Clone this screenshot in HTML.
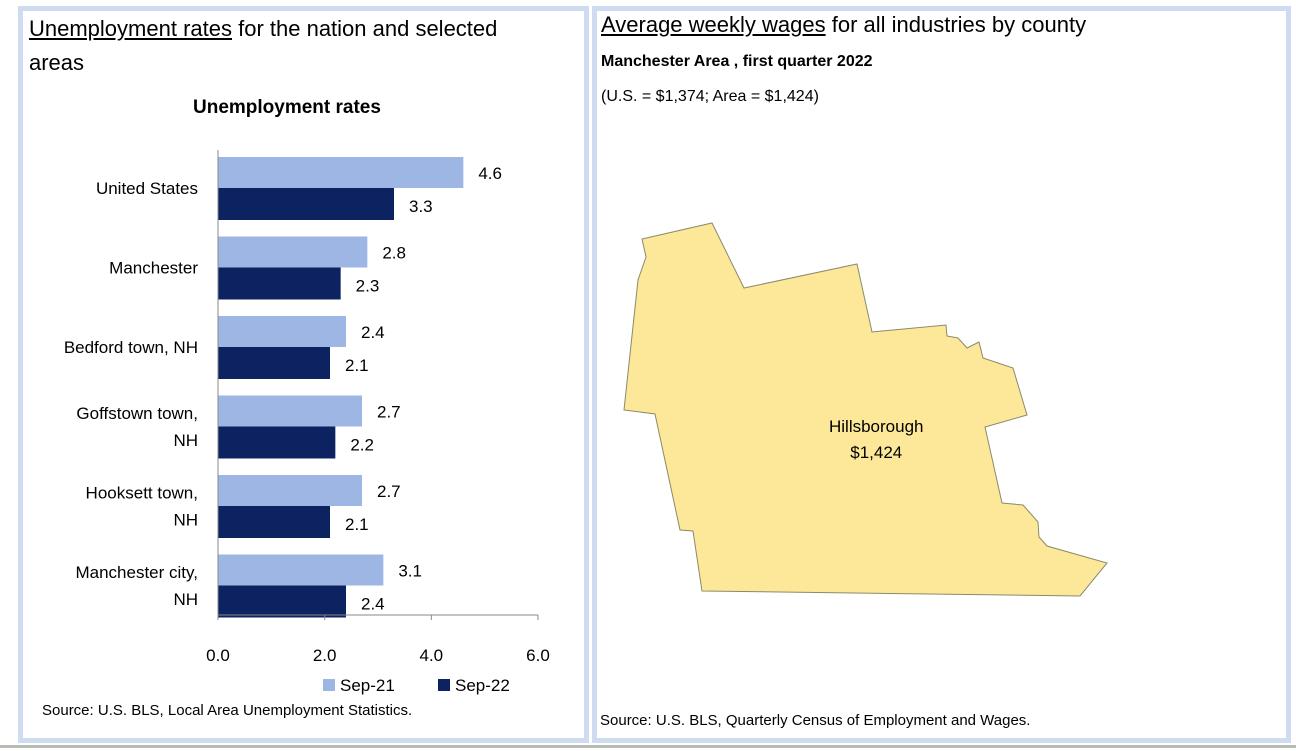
<!DOCTYPE html>
<html><head><meta charset="utf-8"><style>
body{margin:0;width:1296px;height:751px;background:#fff;position:relative;overflow:hidden;font-family:"Liberation Sans",Carlito,sans-serif;color:#000}
.panel{position:absolute;border:5px solid #cfdbf0;box-sizing:border-box;background:#fff}
.t{position:absolute;white-space:nowrap}
</style></head><body>
<div class="panel" style="left:18px;top:6px;width:571px;height:737px"></div>
<div class="panel" style="left:592px;top:6px;width:699px;height:737px"></div>
<div style="position:absolute;left:0;top:745px;width:1296px;height:3px;background:#b7bdb2"></div>

<div class="t" style="left:29px;top:12px;font-size:22px;line-height:34px"><u>Unemployment rates</u> for the nation and selected<br>areas</div>
<div class="t" style="left:193px;top:97px;font-size:19px;font-weight:bold">Unemployment rates</div>

<svg id="chart" style="position:absolute;left:0;top:0" width="590" height="700"></svg>

<div class="t" style="left:323px;top:676px;font-size:17px"><span style="display:inline-block;width:12px;height:12px;background:#9db6e4;margin-right:5px"></span>Sep-21</div>
<div class="t" style="left:438px;top:676px;font-size:17px"><span style="display:inline-block;width:12px;height:12px;background:#0d2260;margin-right:5px"></span>Sep-22</div>
<div class="t" style="left:42px;top:702px;font-size:15px">Source: U.S. BLS, Local Area Unemployment Statistics.</div>

<div class="t" style="left:601px;top:10px;font-size:22px;line-height:30px"><u>Average weekly wages</u> for all industries by county</div>
<div class="t" style="left:601px;top:53px;font-size:16px;font-weight:bold">Manchester Area , first quarter 2022</div>
<div class="t" style="left:601px;top:88px;font-size:16px">(U.S. = $1,374; Area = $1,424)</div>
<svg style="position:absolute;left:0;top:0" width="1296" height="751">
<polygon fill="#fde899" stroke="#8a8a6a" stroke-width="1" points="642,239 712,223 744,288 857,264 872,332 946,325 947,336 958,338 967,348 979,342 983,358 1013,368 1027,415 985,427 1002,503 1023,505 1038,522 1039,537 1047,546 1107,563 1080,596 702,591 693,531 680,530 655,414 624,410 638,280 646,257"/>
</svg>
<div class="t" style="left:829px;top:414px;font-size:17px;text-align:center;line-height:26px">Hillsborough<br>$1,424</div>
<div class="t" style="left:600px;top:712px;font-size:15px">Source: U.S. BLS, Quarterly Census of Employment and Wages.</div>

<script>
const categories=[["United States"],["Manchester"],["Bedford town, NH"],["Goffstown town,","NH"],["Hooksett town,","NH"],["Manchester city,","NH"]];
const sep21=[4.6,2.8,2.4,2.7,2.7,3.1];
const sep22=[3.3,2.3,2.1,2.2,2.1,2.4];
const ticks=[0,2,4,6];
const svg=document.getElementById('chart');
const NS='http://www.w3.org/2000/svg';
const x=v=>218+v*(320/6);
const top0=152,band=79.5,bh=31;
function mk(t,a){const e=document.createElementNS(NS,t);for(const k in a)e.setAttribute(k,a[k]);svg.appendChild(e);return e;}
categories.forEach((c,i)=>{
  const y0=top0+i*band+5;
  const r1=mk('rect',{x:x(0),y:y0,width:x(sep21[i])-x(0),height:bh,fill:'#9db6e4'});
  
  
  const r2=mk('rect',{x:x(0),y:y0+bh,width:x(sep22[i])-x(0),height:bh+1,fill:'#0d2260'});
  
  
  const l1=mk('text',{x:x(sep21[i])+15,y:y0+22,'font-size':17});l1.textContent=sep21[i].toFixed(1);
  
  
  const l2=mk('text',{x:x(sep22[i])+15,y:y0+bh+24,'font-size':17});l2.textContent=sep22[i].toFixed(1);
  
  
  const cy=y0+bh;
  c.forEach((ln,j)=>{const t=mk('text',{x:198,y:cy+6+(j-(c.length-1)/2)*27,'font-size':17,'text-anchor':'end'});t.textContent=ln;
    
    });
});
mk('line',{x1:218,y1:150,x2:218,y2:615,stroke:'#888'});
mk('line',{x1:218,y1:615,x2:x(6),y2:615,stroke:'#888'});
ticks.forEach(v=>{mk('line',{x1:x(v),y1:615,x2:x(v),y2:620,stroke:'#888'});
  const t=mk('text',{x:x(v),y:661,'font-size':17,'text-anchor':'middle'});t.textContent=v.toFixed(1);
  
  });
</script>
</body></html>
